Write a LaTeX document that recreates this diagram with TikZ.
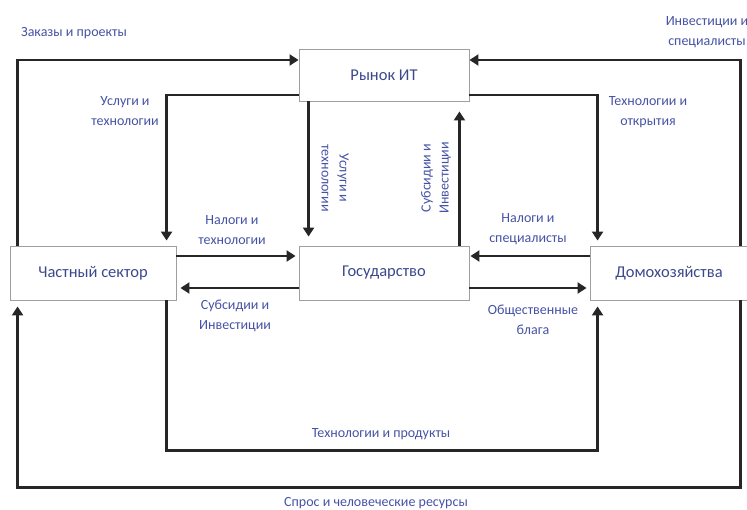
\documentclass[tikz,border=0pt]{standalone}
\usepackage{fontspec}
\setmainfont{Carlito}
\usetikzlibrary{arrows.meta}
\definecolor{lblc}{RGB}{70,82,165}
\definecolor{boxtxt}{RGB}{60,72,140}
\begin{document}
\begin{tikzpicture}[x=1pt,y=-1pt,
  box/.style={draw=gray!75, line width=0.9pt, fill=white, text=boxtxt,
    font=\fontsize{16.5}{18}\selectfont, inner sep=0pt},
  flow/.style={draw=black!85, line width=2.2pt,
    -{Triangle[width=11pt,length=9pt]}},
  lbl/.style={text=lblc, font=\fontsize{14}{20}\selectfont, align=center, inner sep=0pt},
]
\useasboundingbox (0,0) rectangle (747,510);
\node[box, minimum width=170pt, minimum height=52pt] (it) at (384,75) {Рынок ИТ};
\node[box, minimum width=166pt, minimum height=54pt] (ps) at (93,273) {Частный сектор};
\node[box, minimum width=170pt, minimum height=54pt] (gov) at (384,273) {Государство};
\node[box, minimum width=158pt, minimum height=54pt] (hh) at (669,273) {Домохозяйства};

% outer top
\draw[flow] ([xshift=8pt]ps.north west) |- ([yshift=15pt]it.west);
\draw[flow] ([xshift=-8pt]hh.north east) |- ([yshift=15pt]it.east);
% inner top
\draw[flow, shorten >=5pt] ([yshift=-20pt]it.west) -| ([xshift=157pt]ps.north west);
\draw[flow, shorten >=5pt] ([yshift=-20pt]it.east) -| ([xshift=8pt]hh.north west);
% verticals
\draw[flow, shorten >=9pt] ([xshift=10pt]it.south west) -- ([xshift=10pt]gov.north west);
\draw[flow, shorten >=10pt] ([xshift=-10pt]gov.north east) -- ([xshift=-10pt]it.south east);
% horizontals
\draw[flow, shorten >=3pt] ([yshift=17pt]ps.east) -- ([yshift=17pt]gov.west);
\draw[flow, shorten >=4pt] ([yshift=-15pt]gov.west) -- ([yshift=-15pt]ps.east);
\draw[flow, shorten >=1pt] ([yshift=17pt]hh.west) -- ([yshift=17pt]gov.east);
\draw[flow, shorten >=3pt] ([yshift=-15pt]gov.east) -- ([yshift=-15pt]hh.west);
% bottom
\draw[flow, shorten >=6pt] ([xshift=157pt]ps.south west) -- ++(0,150) -| ([xshift=8pt]hh.south west);
\draw[flow, shorten >=6pt] ([xshift=-8pt]hh.south east) -- ++(0,187) -| ([xshift=8pt]ps.south west);

% labels
\node[lbl] at (74,33) {Заказы и проекты};
\node[lbl] at (707,32) {Инвестиции и\\специалисты};
\node[lbl] at (125,111) {Услуги и\\технологии};
\node[lbl] at (648,112) {Технологии и\\открытия};
\node[lbl] at (232,230) {Налоги и\\технологии};
\node[lbl] at (235,316) {Субсидии и\\Инвестиции};
\node[lbl] at (528,229) {Налоги и\\специалисты};
\node[lbl] at (533,320) {Общественные\\блага};
\node[lbl, rotate=-90, font=\fontsize{14}{18}\selectfont] at (335,178) {Услуги и\\технологии};
\node[lbl, rotate=90, font=\fontsize{14}{18}\selectfont] at (436,178) {Субсидии и\\Инвестиции};
\node[lbl] at (381,434) {Технологии и продукты};
\node[lbl] at (376,503) {Спрос и человеческие ресурсы};
\end{tikzpicture}
\end{document}
